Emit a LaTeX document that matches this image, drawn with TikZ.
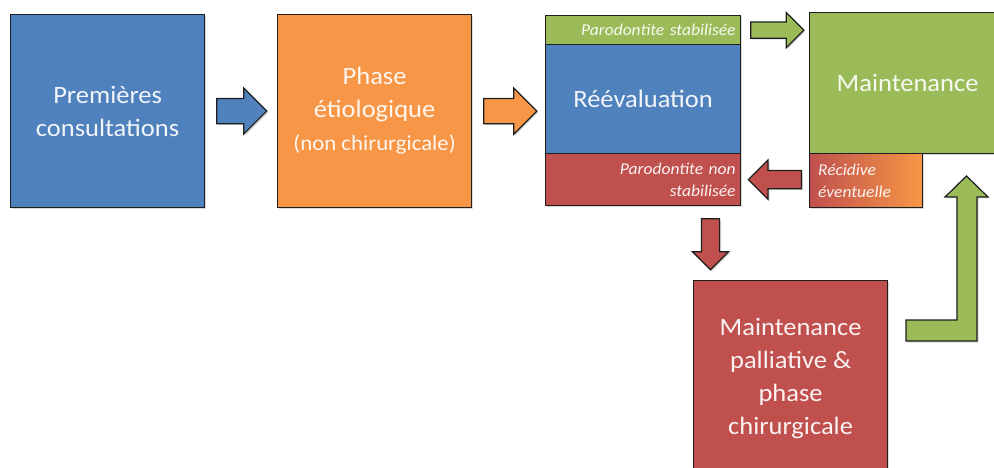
\documentclass[tikz,border=0pt]{standalone}
\usepackage{fontspec}
\setmainfont[FakeStretch=1.06]{Carlito}
\usetikzlibrary{shapes.arrows,shadows,calc}

\definecolor{pblue}{HTML}{4F81BD}
\definecolor{porange}{HTML}{F79646}
\definecolor{pgreen}{HTML}{9BBB59}
\definecolor{pred}{HTML}{C0504D}
\definecolor{edge}{HTML}{1E1E1E}

\begin{document}
\begin{tikzpicture}[x=1pt, y=-1pt,
     box/.style = {draw=edge, line width=1.2pt, anchor=north west,
     inner sep=0pt, align=center, text=white, text opacity=0.92,
     drop shadow={shadow xshift=1.5pt, shadow yshift=-1.5pt, opacity=.3}},
     big/.style = {font=\fontsize{25}{33}\selectfont},
     small/.style = {font=\itshape\fontsize{16.5}{22}\selectfont},
     barrow/.style = {single arrow, draw=edge, line width=1.2pt,
     anchor=tail, inner sep=0pt, minimum width=0pt, single arrow tip angle=90,
     drop shadow={shadow xshift=1.5pt, shadow yshift=-1.5pt, opacity=.3}}]
        \useasboundingbox (0,0) rectangle (994,468);
        \clip (0,0) rectangle (994,468);
        \node [box, big, fill=pblue, minimum width=194pt, minimum height=193pt]
            at (10,14)   (premieres) {Premières\\consultations};
        \node [box, big, fill=porange, minimum width=194pt, minimum height=193pt]
            at (277,14)  (etio) {Phase\\étiologique\\{\fontsize{21.5}{30}\selectfont(non chirurgicale)}};
        % reevaluation block in three parts
        \node [box, small, fill=pgreen, align=right, text width=185pt,
                minimum width=195pt, minimum height=29pt]
            at (545,15)  (stab) {Parodontite stabilisée};
        \node [box, big, fill=pblue, minimum width=195pt, minimum height=109pt]
            at (545,44)  (reev) {Réévaluation};
        \node [box, small, fill=pred, align=right, text width=185pt,
                minimum width=195pt, minimum height=52pt]
            at (545,153) (nonstab) {Parodontite non\\stabilisée};
        % maintenance
        \node [box, big, fill=pgreen, minimum width=196pt, minimum height=141pt]
            at (809,12)  (maint) {Maintenance};
        \node [box, small, left color=pred, right color=porange, align=left,
                text width=96pt, minimum width=113pt, minimum height=54pt]
            at (809,153) (recid) {Récidive\\éventuelle};
        \node [box, big, fill=pred, minimum width=194pt, minimum height=195pt]
            at (693,280) (pallia) {Maintenance\\palliative \&\\phase\\chirurgicale};
        % arrows
        \node [barrow, fill=pblue, minimum height=50pt, inner ysep=12pt,
                single arrow head extend=10.5pt]
            at ($(premieres.east)+(11,0)$) (a1) {};
        \node [barrow, fill=porange, minimum height=53pt, inner ysep=12pt,
                single arrow head extend=10.5pt]
            at ($(etio.east)+(11,0)$) (a2) {};
        \node [barrow, fill=pgreen, minimum height=53pt, inner ysep=7.5pt,
                single arrow head extend=9.5pt]
            at ($(stab.east)+(9,0)$) (a3) {};
        \node [barrow, fill=pred, minimum height=53pt, inner ysep=8.5pt,
                single arrow head extend=10.5pt, shape border rotate=180]
            at ($(nonstab.east -| recid.west)+(-7,0)$) (a4) {};
        \node [barrow, fill=pred, minimum height=51pt, inner xsep=8.5pt,
                single arrow head extend=9pt, shape border rotate=270]
            at ($(nonstab.south west)+(165.5,12)$) (a5) {};
        \draw [draw=edge, line width=1.2pt, fill=pgreen,
                drop shadow={shadow xshift=1.5pt, shadow yshift=-1.5pt, opacity=.3}]
            (906,320) -- (957,320) -- (957,197) -- (945,197) -- (966.5,176)
            -- (988,197) -- (977,197) -- (977,341) -- (906,341) -- cycle;
\end{tikzpicture}
\end{document}
